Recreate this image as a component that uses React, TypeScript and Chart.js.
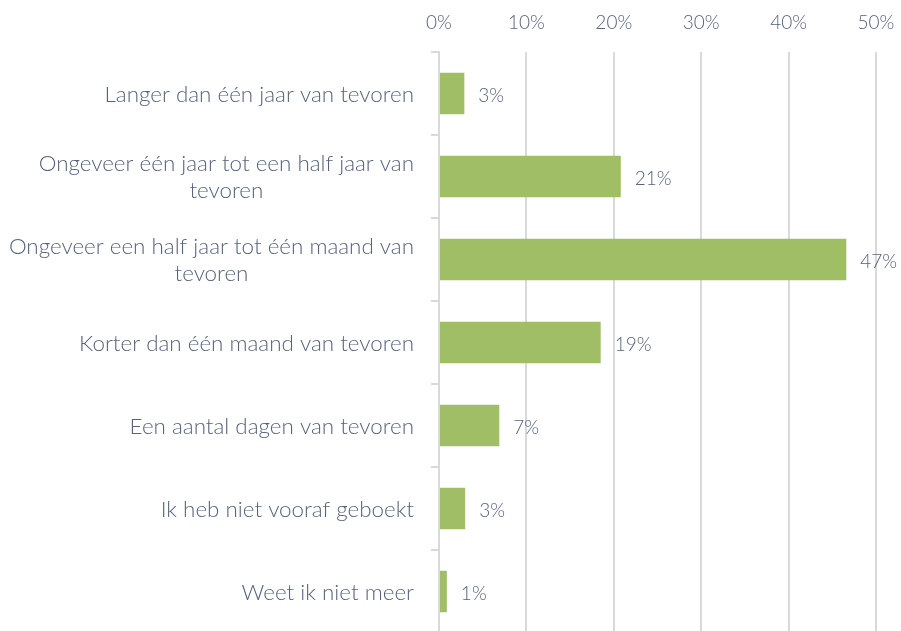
import React, { useEffect, useRef } from "react";
import { Chart, registerables } from "chart.js";

Chart.register(...registerables);

const categories: string[][] = [
  ["Langer dan één jaar van tevoren"],
  ["Ongeveer één jaar tot een half jaar van", "tevoren"],
  ["Ongeveer een half jaar tot één maand van", "tevoren"],
  ["Korter dan één maand van tevoren"],
  ["Een aantal dagen van tevoren"],
  ["Ik heb niet vooraf geboekt"],
  ["Weet ik niet meer"],
];
const values: number[] = [2.9, 20.8, 46.6, 18.5, 6.9, 3.0, 0.9];
const valueLabels: string[] = ["3%", "21%", "47%", "19%", "7%", "3%", "1%"];
const axisMin = 0;
const axisMax = 50;
const axisStep = 10;

const TEXT = "#56637a";
const GRID = "#d9d9d9";
const BAR = "#a0be66";
const FONT = "Lato";

export default function App() {
  const ref = useRef<HTMLCanvasElement | null>(null);
  useEffect(() => {
    if (!ref.current) return;
    const catLabelPlugin = {
      id: "catLabels",
      afterDraw(chart: any) {
        const ctx = chart.ctx;
        const ys = chart.scales.y;
        const right = chart.chartArea.left - 25;
        ctx.save();
        ctx.font = `300 22.4px ${FONT}`;
        ctx.fillStyle = TEXT;
        ctx.textAlign = "center";
        ctx.textBaseline = "middle";
        const lh = 27;
        categories.forEach((lines, i) => {
          const y = ys.getPixelForValue(i) + 1;
          const w = Math.max(...lines.map((l) => ctx.measureText(l).width));
          const cx = right - w / 2;
          lines.forEach((l, j) => {
            ctx.fillText(l, cx, y + (j - (lines.length - 1) / 2) * lh);
          });
        });
        ctx.restore();
      },
    };
    const valueLabelPlugin = {
      id: "valLabels",
      afterDatasetsDraw(chart: any) {
        const ctx = chart.ctx;
        const meta = chart.getDatasetMeta(0);
        ctx.save();
        ctx.font = `300 19px ${FONT}`;
        ctx.fillStyle = TEXT;
        ctx.textAlign = "left";
        ctx.textBaseline = "middle";
        meta.data.forEach((bar: any, i: number) => {
          ctx.fillText(valueLabels[i], bar.x + 14, bar.y + 2);
        });
        ctx.restore();
      },
    };
    const chart = new Chart(ref.current, {
      type: "bar",
      data: {
        labels: categories,
        datasets: [
          {
            data: values,
            backgroundColor: BAR,
            barPercentage: 0.5,
            categoryPercentage: 1,
          },
        ],
      },
      options: {
        indexAxis: "y",
        animation: false,
        responsive: false,
        maintainAspectRatio: false,
        layout: { padding: { top: 0, right: 25, bottom: 0, left: 0 } },
        plugins: { legend: { display: false }, tooltip: { enabled: false } },
        scales: {
          x: {
            position: "top",
            min: axisMin,
            max: axisMax,
            ticks: {
              stepSize: axisStep,
              callback: (v: any) => v + "%",
              color: TEXT,
              font: { family: FONT, size: 19, weight: "300" },
              padding: 18,
            },
            grid: { color: GRID, lineWidth: 2, drawTicks: false },
            border: { display: false },
            afterFit: (s: any) => {
              s.height = 52;
              s.paddingLeft = 0;
              s.paddingRight = 0;
            },
          },
          y: {
            ticks: { display: false },
            grid: {
              drawOnChartArea: false,
              drawTicks: true,
              tickLength: 8,
              color: GRID,
              lineWidth: 2,
              offset: true,
            },
            border: { display: true, color: GRID, width: 2 },
            afterFit: (s: any) => {
              s.width = 439;
              s.paddingTop = 0;
              s.paddingBottom = 0;
            },
          },
        },
      },
      plugins: [catLabelPlugin, valueLabelPlugin],
    });
    return () => chart.destroy();
  }, []);
  return (
    <div
      style={{
        position: "fixed",
        left: 0,
        top: 0,
        width: 901,
        height: 631,
        overflow: "hidden",
        background: "#fff",
      }}
    >
      <canvas ref={ref} width={901} height={633} style={{ display: "block" }} />
    </div>
  );
}
